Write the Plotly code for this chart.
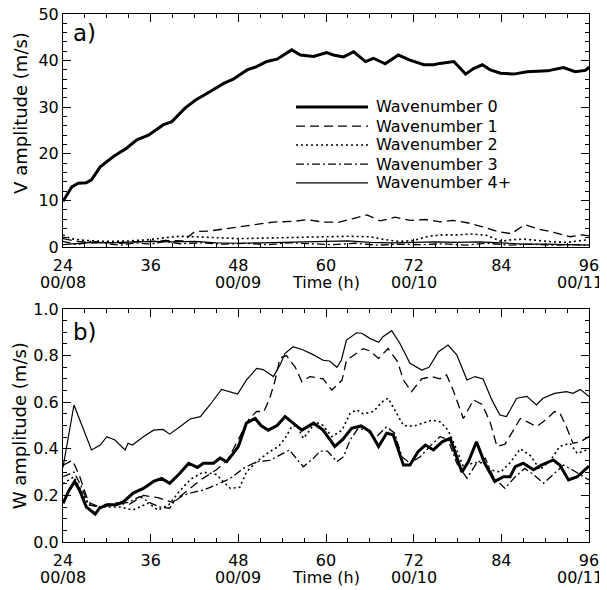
import plotly.graph_objects as go

# ---------------- data ----------------
# Panel a) V amplitude (m/s)
v0_t = [24, 25.2, 26.1, 27.2, 27.9, 29.1, 30.9, 32.7, 34.1, 35.7, 37.7, 38.9, 40.7, 42.1, 44.1, 46.0, 47.3,
        49.2, 50.5, 51.9, 53.3, 54.0, 55.3, 56.5, 58.3, 60.1, 61.0, 62.4, 63.8, 65.4, 66.5, 68.1, 69.9, 71.5,
        73.4, 74.7, 75.6, 77.5, 79.1, 80.2, 81.4, 82.5, 83.9, 85.7, 87.5, 90.3, 92.5, 94.1, 95.5, 96]
v0 = [9.8, 12.9, 13.7, 13.8, 14.4, 17.2, 19.4, 21.2, 23.0, 24.0, 26.2, 26.9, 29.8, 31.5, 33.3, 35.1, 36.0,
      38.0, 38.7, 39.8, 40.3, 41.0, 42.3, 41.2, 40.9, 41.7, 41.2, 40.8, 41.9, 39.8, 40.5, 39.3, 41.2, 40.1,
      39.1, 39.1, 39.4, 39.8, 37.1, 38.3, 39.1, 38.0, 37.3, 37.1, 37.6, 37.8, 38.5, 37.6, 37.9, 38.6]

v1_t = [24, 26, 28, 30, 32, 34, 36, 38, 40.5, 42, 43.9, 47.3, 50.0, 52.8, 55.5, 57.4, 59.6, 61.7, 63.7, 65.6,
        67.4, 69.5, 71.5, 73.6, 75.6, 77.4, 79.5, 81.3, 83.4, 85.4, 87.2, 89.1, 91.3, 93.4, 95.0, 96]
v1 = [1.8, 1.2, 0.9, 1.0, 0.8, 1.1, 1.2, 1.4, 1.3, 3.3, 3.4, 4.1, 4.8, 5.35, 5.5, 5.85, 5.35, 5.3, 6.1, 6.9,
      5.6, 6.4, 5.7, 5.9, 5.4, 5.7, 5.15, 4.4, 3.35, 2.85, 4.8, 3.85, 3.1, 2.2, 2.6, 2.4]

v2_t = [24, 25, 27, 30, 33, 36, 38, 40, 42, 45, 48, 51, 54, 57, 60, 63, 66, 68, 70, 72, 74, 76, 78, 80, 82,
        84, 85, 87, 89, 91, 93, 95, 96]
v2 = [2.6, 1.8, 1.4, 1.2, 1.3, 1.6, 2.0, 2.3, 2.2, 2.0, 1.8, 1.9, 2.0, 2.2, 2.3, 2.3, 2.2, 1.6, 1.2, 1.4,
      2.3, 2.6, 2.6, 2.8, 2.5, 1.2, 1.5, 1.7, 1.4, 1.1, 1.0, 1.5, 1.6]

v3_t = [24, 26, 28, 30, 32, 34, 36, 38, 40, 43, 46, 49, 52, 55, 58, 61, 64, 67, 70, 73, 76, 79, 82, 85, 88,
        91, 94, 96]
v3 = [1.2, 0.5, 1.3, 0.7, 0.4, 0.9, 0.6, 1.2, 0.7, 0.9, 0.6, 0.8, 0.5, 0.9, 0.7, 0.5, 0.8, 0.4, 0.6, 0.5,
      0.7, 0.4, 0.8, 0.4, 0.6, 0.4, 0.5, 0.4]

v4_t = [24, 26, 28, 30, 33, 36, 39, 42, 45, 48, 51, 54, 57, 60, 63, 66, 69, 72, 75, 78, 81, 84, 87, 90, 93, 96]
v4 = [0.5, 0.8, 1.0, 0.9, 1.1, 1.2, 1.1, 1.2, 0.9, 0.8, 0.9, 1.0, 1.1, 1.2, 1.3, 1.0, 0.9, 1.0, 1.1, 1.0,
      1.1, 0.9, 0.6, 0.6, 0.5, 0.4]

# Panel b) W amplitude (m/s)
w0_t = [24, 24.8, 25.6, 26.3, 27.2, 28.4, 29.0, 30.0, 31.3, 32.3, 33.6, 35.0, 36.4, 37.5, 38.6, 40.0, 41.2,
        42.4, 43.2, 44.6, 45.5, 46.4, 47.3, 48.0, 49.1, 50.3, 51.1, 52.1, 53.3, 54.4, 55.5, 56.7, 58.3, 59.6,
        61.2, 62.3, 63.5, 64.8, 66.0, 67.2, 68.3, 69.2, 70.6, 71.5, 72.6, 73.6, 74.7, 75.9, 77.0, 77.7, 78.6,
        79.5, 80.6, 81.7, 83.1, 84.3, 85.2, 85.9, 87.0, 88.4, 89.5, 91.1, 92.0, 93.2, 94.4, 96]
w0 = [0.166, 0.22, 0.26, 0.22, 0.15, 0.12, 0.145, 0.16, 0.16, 0.173, 0.21, 0.23, 0.26, 0.273, 0.252, 0.295,
      0.338, 0.32, 0.338, 0.338, 0.36, 0.345, 0.38, 0.41, 0.51, 0.53, 0.50, 0.48, 0.50, 0.538, 0.51, 0.48,
      0.51, 0.48, 0.41, 0.44, 0.488, 0.498, 0.475, 0.41, 0.467, 0.46, 0.33, 0.33, 0.388, 0.416, 0.395, 0.43,
      0.445, 0.38, 0.30, 0.345, 0.43, 0.34, 0.26, 0.28, 0.28, 0.323, 0.338, 0.31, 0.33, 0.352, 0.33, 0.266,
      0.28, 0.326]

w1_t = [24, 25.3, 26.3, 27.5, 29, 31, 33, 35, 37, 39, 41, 43, 45, 46.5, 48, 49.5, 50.5, 51.5, 52.3, 53.0,
        53.7, 54.6, 55.8, 56.7, 57.8, 59.6, 60.8, 62.2, 62.8, 65.1, 66.0, 67.2, 68.5, 69.8, 70.6, 71.7, 73.1,
        74.5, 75.6, 76.5, 77.4, 78.8, 80.2, 81.4, 82.5, 83.4, 84.5, 85.6, 86.6, 87.9, 88.8, 89.9, 91.3, 92.0,
        92.9, 93.8, 94.8, 96]
w1 = [0.33, 0.35, 0.28, 0.17, 0.15, 0.17, 0.16, 0.20, 0.19, 0.17, 0.22, 0.27, 0.31, 0.35, 0.44, 0.53, 0.56,
      0.56, 0.617, 0.69, 0.79, 0.80, 0.75, 0.688, 0.71, 0.70, 0.652, 0.695, 0.78, 0.83, 0.82, 0.788, 0.83,
      0.774, 0.695, 0.645, 0.70, 0.71, 0.70, 0.717, 0.652, 0.53, 0.61, 0.59, 0.51, 0.41, 0.42, 0.48, 0.53,
      0.51, 0.495, 0.52, 0.56, 0.555, 0.495, 0.424, 0.43, 0.452]

w2_t = [24, 25.5, 26.5, 27.5, 29, 30.5, 32, 33.5, 35.7, 37, 38.5, 40, 41.5, 43.2, 45, 45.9, 46.9, 48.2, 49.1,
        50.5, 52.3, 53.5, 54.4, 55.3, 56.0, 56.9, 57.8, 58.5, 59.6, 60.8, 62.2, 63.3, 64.2, 65.1, 66.5, 67.6,
        68.5, 69.4, 70.6, 72.0, 73.4, 74.5, 75.6, 76.7, 77.7, 78.8, 80.2, 81.4, 82.5, 83.9, 85.2, 86.6, 88.0,
        89.3, 90.7, 92.0, 93.4, 94.4, 96]
w2 = [0.25, 0.28, 0.22, 0.16, 0.15, 0.15, 0.15, 0.137, 0.167, 0.137, 0.16, 0.22, 0.27, 0.30, 0.29, 0.26,
      0.23, 0.235, 0.30, 0.345, 0.388, 0.41, 0.445, 0.495, 0.50, 0.445, 0.48, 0.516, 0.50, 0.452, 0.48, 0.552,
      0.567, 0.55, 0.56, 0.60, 0.617, 0.567, 0.50, 0.497, 0.51, 0.523, 0.516, 0.48, 0.41, 0.323, 0.34, 0.34,
      0.31, 0.30, 0.34, 0.40, 0.37, 0.31, 0.35, 0.41, 0.424, 0.38, 0.40]

w3_t = [24, 25.5, 26.5, 27.5, 29, 31, 33, 34.5, 36, 37.3, 38.6, 39.2, 40.4, 41.4, 43.2, 45, 46.9, 48.7, 50.5,
        52.3, 53.7, 55.0, 55.9, 56.9, 58.3, 59.2, 60.2, 61.5, 62.4, 63.3, 64.4, 65.6, 66.7, 68.3, 69.4, 70.4,
        71.5, 72.9, 74.2, 75.6, 76.7, 77.9, 79.3, 80.6, 81.8, 82.9, 84.5, 85.9, 87.2, 88.4, 89.8, 91.1, 92.5,
        93.7, 94.8, 96]
w3 = [0.28, 0.30, 0.24, 0.16, 0.15, 0.16, 0.17, 0.195, 0.167, 0.15, 0.145, 0.173, 0.20, 0.21, 0.223, 0.245,
      0.273, 0.316, 0.345, 0.35, 0.373, 0.395, 0.36, 0.323, 0.36, 0.39, 0.39, 0.345, 0.366, 0.438, 0.488,
      0.48, 0.445, 0.495, 0.467, 0.366, 0.338, 0.366, 0.41, 0.452, 0.44, 0.338, 0.273, 0.338, 0.36, 0.28,
      0.23, 0.28, 0.316, 0.29, 0.252, 0.29, 0.33, 0.31, 0.29, 0.266]

w4_t = [24, 25.5, 26.1, 26.8, 27.9, 29.1, 30.0, 31.1, 32.5, 32.9, 33.5, 35.0, 36.4, 37.7, 38.6, 40.0, 41.4,
        42.8, 44.1, 45.7, 46.9, 47.9, 49.1, 50.5, 51.4, 52.8, 53.7, 54.4, 55.5, 56.9, 58.3, 59.6, 60.5, 61.5,
        62.1, 62.8, 64.2, 64.9, 66.0, 67.2, 67.8, 69.0, 70.1, 71.5, 73.1, 74.1, 75.4, 76.7, 77.9, 79.3, 80.4,
        81.5, 82.7, 83.8, 84.7, 86.1, 87.5, 88.8, 89.7, 91.3, 92.9, 93.8, 94.8, 96]
w4 = [0.32, 0.588, 0.54, 0.48, 0.395, 0.416, 0.452, 0.438, 0.395, 0.424, 0.416, 0.452, 0.48, 0.483, 0.463,
      0.495, 0.528, 0.538, 0.588, 0.655, 0.645, 0.635, 0.695, 0.745, 0.74, 0.71, 0.76, 0.81, 0.838, 0.824,
      0.803, 0.78, 0.777, 0.75, 0.78, 0.867, 0.898, 0.896, 0.874, 0.857, 0.881, 0.907, 0.853, 0.767, 0.738,
      0.75, 0.817, 0.845, 0.803, 0.695, 0.71, 0.70, 0.61, 0.545, 0.538, 0.617, 0.625, 0.588, 0.617, 0.638,
      0.645, 0.638, 0.655, 0.624]

series_names = ["Wavenumber 0", "Wavenumber 1", "Wavenumber 2", "Wavenumber 3", "Wavenumber 4+"]
date_ticks = [24, 48, 60, 72, 96]
date_labels = ["00/08", "00/09", "Time (h)", "00/10", "00/11"]
y_titles = ["V amplitude (m/s)", "W amplitude (m/s)"]

# ---------------- styling ----------------
FONT = "DejaVu Sans"
styles = [
    dict(width=3.0, dash="solid"),
    dict(width=1.3, dash="9px,5px"),
    dict(width=1.6, dash="2px,3px"),
    dict(width=1.3, dash="8px,3px,2px,3px"),
    dict(width=1.2, dash="solid"),
]

fig = go.Figure()
top = [(v0_t, v0), (v1_t, v1), (v2_t, v2), (v3_t, v3), (v4_t, v4)]
bot = [(w0_t, w0), (w1_t, w1), (w2_t, w2), (w3_t, w3), (w4_t, w4)]
for (t, v), st, nm in zip(top, styles, series_names):
    fig.add_trace(go.Scatter(x=t, y=v, mode="lines", name=nm, showlegend=False,
                             line=dict(color="black", **st), xaxis="x", yaxis="y"))
for (t, v), st, nm in zip(bot, styles, series_names):
    fig.add_trace(go.Scatter(x=t, y=v, mode="lines", name=nm, showlegend=False,
                             line=dict(color="black", **st), xaxis="x2", yaxis="y2"))

# page body adds an 8px offset, so the figure is 8px smaller than the window
W, H = 599, 582
ML, MR, MT, MB = 55, 18, 6, 48
ph = H - MT - MB          # 528 px of plotting height
top_dom = [295 / ph, 1.0]
bot_dom = [0.0, 233 / ph]

axis_common = dict(showline=True, linecolor="black", linewidth=1, mirror="allticks",
                   ticks="inside", ticklen=8, tickwidth=1, tickcolor="black",
                   showgrid=False, zeroline=False, automargin=False, ticklabeloverflow="allow",
                   tickfont=dict(family=FONT, size=16, color="black"))

xax = dict(axis_common, range=[24, 96], tickmode="linear", tick0=24, dtick=12, ticklabelstandoff=4,
           minor=dict(ticks="inside", ticklen=4, tickcolor="black", tickmode="linear", tick0=24, dtick=3))

fig.update_layout(
    width=W, height=H, margin=dict(l=ML, r=MR, t=MT, b=MB),
    paper_bgcolor="white", plot_bgcolor="white",
    font=dict(family=FONT, color="black"),
    xaxis=dict(xax, domain=[0, 1], anchor="y"),
    yaxis=dict(axis_common, domain=top_dom, anchor="x", range=[0, 50], tickmode="linear", tick0=0, dtick=10,
               minor=dict(ticks="inside", ticklen=4, tickcolor="black", tickmode="linear", tick0=0, dtick=2)),
    xaxis2=dict(xax, domain=[0, 1], anchor="y2"),
    yaxis2=dict(axis_common, domain=bot_dom, anchor="x2", range=[0, 1], tickmode="linear", tick0=0, dtick=0.2,
                tickformat=".1f",
                minor=dict(ticks="inside", ticklen=4, tickcolor="black", tickmode="linear", tick0=0, dtick=0.05)),
)

ann = []
shapes = []
# second line of x tick labels
for xr, yr in (("x", "y domain"), ("x2", "y2 domain")):
    for tv, tl in zip(date_ticks, date_labels):
        a = dict(x=tv, y=0, xref=xr, yref=yr, text=tl, showarrow=False, xanchor="center",
                 yanchor="middle", yshift=-35, borderpad=0,
                 font=dict(family=FONT, size=16, color="black"))
        if tv == 96:
            a.update(xanchor="right", xshift=15)
        ann.append(a)

# y-axis titles (the V title sits above the middle of its axis in the original)
ann.append(dict(x=-0.082, y=0.575, xref="x domain", yref="y domain", text=y_titles[0], textangle=-90,
                showarrow=False, xanchor="center", yanchor="middle",
                font=dict(family=FONT, size=18, color="black")))
ann.append(dict(x=-0.082, y=0.5, xref="x2 domain", yref="y2 domain", text=y_titles[1], textangle=-90,
                showarrow=False, xanchor="center", yanchor="middle",
                font=dict(family=FONT, size=18, color="black")))

# panel labels
ann.append(dict(x=0.015, y=0.92, xref="x domain", yref="y domain", text="a)", showarrow=False,
                xanchor="left", yanchor="middle", font=dict(family=FONT, size=23, color="black")))
ann.append(dict(x=0.015, y=0.90, xref="x2 domain", yref="y2 domain", text="b)", showarrow=False,
                xanchor="left", yanchor="middle", font=dict(family=FONT, size=23, color="black")))

# legend inside panel a
leg_rows = [0.601, 0.519, 0.438, 0.356, 0.275]
for nm, st, ry in zip(series_names, styles, leg_rows):
    shapes.append(dict(type="line", xref="x domain", yref="y domain", x0=0.443, x1=0.580, y0=ry, y1=ry,
                       line=dict(color="black", width=st["width"], dash=st["dash"])))
    ann.append(dict(x=0.592, y=ry, xref="x domain", yref="y domain", text=nm, showarrow=False,
                    xanchor="left", yanchor="middle", font=dict(family=FONT, size=16, color="black")))

fig.update_layout(annotations=ann, shapes=shapes)
fig.write_html("out.html")
